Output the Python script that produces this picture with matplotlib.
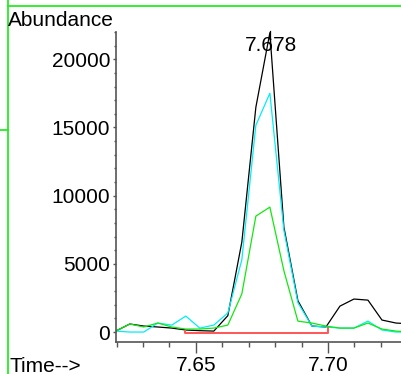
import matplotlib
matplotlib.use("Agg")
import matplotlib.pyplot as plt
from matplotlib.ticker import FixedLocator, MultipleLocator
from matplotlib.lines import Line2D

# retention times (min) of the scans
times = [7.6197, 7.625, 7.6303, 7.6356, 7.6409, 7.6462, 7.6515, 7.6568,
         7.6621, 7.6674, 7.6727, 7.678, 7.6833, 7.6886, 7.6939, 7.6992,
         7.7045, 7.7098, 7.7151, 7.7204, 7.7257, 7.731]

# ion traces
black_ion = [70, 590, 440, 370, 290, 150, 100, 70, 1200, 6600, 16480, 21950,
             7700, 2300, 440, 370, 1900, 2420, 2340, 880, 660, 600]
cyan_ion = [70, 0, 0, 660, 510, 1170, 290, 510, 1400, 5300, 15160, 17510,
            7470, 2150, 440, 370, 290, 290, 800, 150, 0, 0]
green_ion = [70, 590, 370, 660, 370, 220, 220, 290, 510, 2800, 8500, 9160,
             4500, 800, 660, 440, 290, 290, 660, 220, 70, 0]

# integration baseline
base_t = [7.6458, 7.6458, 7.70, 7.70]
base_y = [60, -40, -40, 280]

peak_rt = 7.678
x_major = [7.65, 7.70]
x_labels = ["7.65", "7.70"]
y_major = [0, 5000, 10000, 15000, 20000]

plt.rcParams["font.family"] = ["Liberation Sans", "DejaVu Sans"]
plt.rcParams["font.size"] = 15

W, H = 401, 374
fig = plt.figure(figsize=(W / 100, H / 100), dpi=100)
ax = fig.add_axes([116 / W, (H - 342) / H, 285 / W, 310 / H])

ax.plot(times, black_ion, color="black", lw=0.9)
ax.plot(times, cyan_ion, color="#00eef5", lw=0.9)
ax.plot(times, green_ion, color="#11e811", lw=0.9)
ax.plot(base_t, base_y, color="#ff5555", lw=1.4)

# peak label
ax.plot([peak_rt, peak_rt], [20900, 22050], color="black", lw=0.9, clip_on=False)
ax.text(peak_rt + 0.0003, 20600, "7.678", ha="center", va="baseline")

ax.set_xlim(7.6198, 7.7276)
ax.set_ylim(-730, 22000)

ax.xaxis.set_major_locator(FixedLocator(x_major))
ax.set_xticklabels(x_labels)
ax.xaxis.set_minor_locator(MultipleLocator(0.01))
ax.yaxis.set_major_locator(FixedLocator(y_major))
ax.yaxis.set_minor_locator(MultipleLocator(1000))

for s in ["top", "right"]:
    ax.spines[s].set_visible(False)
for s in ["left", "bottom"]:
    ax.spines[s].set_color("#555555")
    ax.spines[s].set_linewidth(1.2)

ax.tick_params(axis="x", which="major", length=8, width=1, color="#555555", pad=2)
ax.tick_params(axis="x", which="minor", length=3.6, width=1, color="#555555")
ax.tick_params(axis="y", which="major", length=2.2, width=1, color="#555555", pad=2)
ax.tick_params(axis="y", which="minor", length=1.5, width=1, color="#555555")

fig.text(8 / W, (H - 26) / H, "Abundance", ha="left", va="baseline")
fig.text(10 / W, (H - 371.5) / H, "Time-->", ha="left", va="baseline")

# green frame lines
g = "#22ee22"
fig.add_artist(Line2D([7.5 / W, 1], [1 - 6 / H, 1 - 6 / H], color=g, lw=1.3))
fig.add_artist(Line2D([7.5 / W, 7.5 / W], [0, 1], color=g, lw=1.3))
fig.add_artist(Line2D([0, 7.5 / W], [1 - 130 / H, 1 - 130 / H], color=g, lw=1.3))

fig.savefig("out.png", dpi=100)
